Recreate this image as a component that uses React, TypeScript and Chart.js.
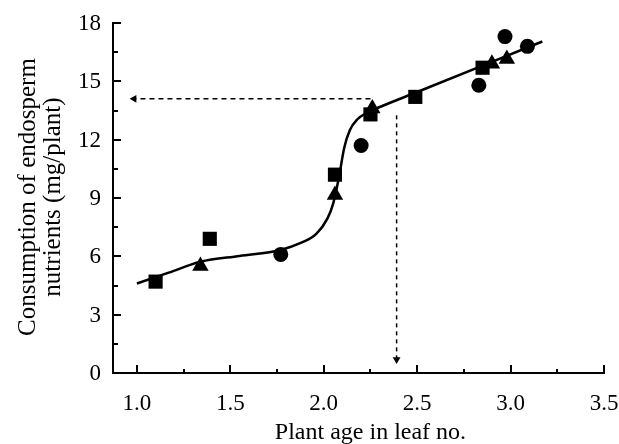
import React, { useEffect, useRef } from "react";
import { Chart, registerables } from "chart.js";

Chart.register(...registerables);

// ---- data ----
const squareX = [1.1, 1.39, 2.06, 2.25, 2.49, 2.85];
const squareY = [4.7, 6.9, 10.2, 13.3, 14.2, 15.7];

const triangleX = [1.34, 2.06, 2.26, 2.9, 2.98];
const triangleY = [5.5, 9.15, 13.6, 15.9, 16.15];

const circleX = [1.77, 2.2, 2.83, 2.97, 3.09];
const circleY = [6.1, 11.7, 14.8, 17.3, 16.8];

const curveX = [1.0, 1.17, 1.34, 1.55, 1.77, 1.88, 1.96, 2.02, 2.05, 2.08, 2.11, 2.14, 2.18, 2.23, 2.3, 2.5, 2.9, 3.17];
const curveY = [4.6, 5.16, 5.72, 6.02, 6.33, 6.7, 7.15, 7.95, 8.7, 10.0, 11.6, 12.5, 13.05, 13.38, 13.68, 14.45, 16.0, 17.05];

const hDashX = [2.25, 0.985];
const hDashY = [14.1, 14.1];
const vDashX = [2.39, 2.39];
const vDashY = [13.25, 0.7];
const arrowX = [0.985, 2.39];
const arrowY = [14.1, 0.7];
const arrowRotation = [270, 180];

const xMajorTicks = [1.0, 1.5, 2.0, 2.5, 3.0, 3.5];
const xMajorLabels = ["1.0", "1.5", "2.0", "2.5", "3.0", "3.5"];
const xMinorTicks = [1.25, 1.75, 2.25, 2.75, 3.25];
const yMajorTicks = [0, 3, 6, 9, 12, 15, 18];
const yMajorLabels = ["0", "3", "6", "9", "12", "15", "18"];
const yMinorTicks = [1.5, 4.5, 7.5, 10.5, 13.5, 16.5];

const xTitle = "Plant age in leaf no.";
const yTitleLines = ["Consumption of endosperm", "nutrients (mg/plant)"];

const X_MIN = 0.872;
const X_MAX = 3.5;
const Y_MIN = 0;
const Y_MAX = 18;

const FONT = "'Liberation Serif', 'Times New Roman', serif";

const zip = (xs: number[], ys: number[]) => xs.map((x, i) => ({ x, y: ys[i] }));

const axesPlugin = {
  id: "customAxes",
  afterDatasetsDraw(chart: any) {
    const { ctx, chartArea, scales } = chart;
    const xs = scales.x;
    const ys = scales.y;
    const y0 = ys.getPixelForValue(0);
    const xLeft = chartArea.left;
    ctx.save();
    ctx.strokeStyle = "#000";
    ctx.fillStyle = "#000";
    ctx.lineWidth = 2;
    ctx.lineCap = "butt";
    // axis lines
    ctx.beginPath();
    ctx.moveTo(xLeft, ys.getPixelForValue(Y_MAX) - 1);
    ctx.lineTo(xLeft, y0);
    ctx.lineTo(xs.getPixelForValue(X_MAX) + 1, y0);
    ctx.stroke();
    // x ticks (inward / upward)
    ctx.beginPath();
    xMajorTicks.forEach((v) => {
      const px = Math.round(xs.getPixelForValue(v));
      ctx.moveTo(px, y0);
      ctx.lineTo(px, y0 - 8);
    });
    xMinorTicks.forEach((v) => {
      const px = Math.round(xs.getPixelForValue(v));
      ctx.moveTo(px, y0);
      ctx.lineTo(px, y0 - 4);
    });
    // y ticks (inward / rightward)
    yMajorTicks.forEach((v) => {
      const py = Math.round(ys.getPixelForValue(v));
      ctx.moveTo(xLeft, py);
      ctx.lineTo(xLeft + 8, py);
    });
    yMinorTicks.forEach((v) => {
      const py = Math.round(ys.getPixelForValue(v));
      ctx.moveTo(xLeft, py);
      ctx.lineTo(xLeft + 5, py);
    });
    ctx.stroke();

    // tick labels
    ctx.font = `23px ${FONT}`;
    ctx.textAlign = "center";
    ctx.textBaseline = "middle";
    xMajorTicks.forEach((v, i) => {
      ctx.fillText(xMajorLabels[i], xs.getPixelForValue(v), y0 + 31);
    });
    ctx.textAlign = "right";
    yMajorTicks.forEach((v, i) => {
      ctx.fillText(yMajorLabels[i], xLeft - 12, ys.getPixelForValue(v) + 1);
    });

    // titles
    ctx.font = `24px ${FONT}`;
    ctx.textAlign = "center";
    ctx.fillText(xTitle, (xs.getPixelForValue(1.0) + xs.getPixelForValue(X_MAX)) / 2, y0 + 60);
    ctx.font = `25px ${FONT}`;
    const cy = (ys.getPixelForValue(Y_MIN) + ys.getPixelForValue(Y_MAX)) / 2 - 1;
    ctx.save();
    ctx.translate(0, cy);
    ctx.rotate(-Math.PI / 2);
    ctx.fillText(yTitleLines[0], 0, 28);
    ctx.fillText(yTitleLines[1], 0, 53);
    ctx.restore();
    ctx.restore();
  },
};

export default function App() {
  const ref = useRef<HTMLCanvasElement | null>(null);
  useEffect(() => {
    if (!ref.current) return;
    const chart = new Chart(ref.current, {
      type: "scatter",
      data: {
        datasets: [
          {
            label: "squares",
            data: zip(squareX, squareY),
            pointStyle: "rect",
            pointRadius: 10,
            backgroundColor: "#000",
            borderColor: "#000",
            borderWidth: 0,
            showLine: false,
            order: 0,
            clip: false,
          } as any,
          {
            label: "triangles",
            data: zip(triangleX, triangleY),
            pointStyle: "triangle",
            pointRadius: 9.5,
            backgroundColor: "#000",
            borderColor: "#000",
            borderWidth: 0,
            showLine: false,
            order: 0,
            clip: false,
          },
          {
            label: "circles",
            data: zip(circleX, circleY),
            pointStyle: "circle",
            pointRadius: 7.5,
            backgroundColor: "#000",
            borderColor: "#000",
            borderWidth: 0,
            showLine: false,
            order: 0,
            clip: false,
          },
          {
            label: "curve",
            type: "line",
            data: zip(curveX, curveY),
            borderColor: "#000",
            borderWidth: 2.5,
            pointRadius: 0,
            showLine: true,
            fill: false,
            cubicInterpolationMode: "monotone",
            order: 1,
            clip: false,
          } as any,
          {
            label: "hdash",
            type: "line",
            data: zip(hDashX, hDashY),
            borderColor: "#000",
            borderWidth: 1.5,
            borderDash: [5, 4],
            pointRadius: 0,
            showLine: true,
            fill: false,
            order: 2,
            clip: false,
          } as any,
          {
            label: "vdash",
            type: "line",
            data: zip(vDashX, vDashY),
            borderColor: "#000",
            borderWidth: 1.5,
            borderDash: [4, 4],
            pointRadius: 0,
            showLine: true,
            fill: false,
            order: 2,
            clip: false,
          } as any,
          {
            label: "arrows",
            data: zip(arrowX, arrowY),
            pointStyle: "triangle",
            pointRadius: 4.5,
            pointRotation: arrowRotation,
            backgroundColor: "#000",
            borderColor: "#000",
            borderWidth: 0,
            showLine: false,
            order: 0,
            clip: false,
          } as any,
        ],
      },
      options: {
        animation: false,
        responsive: false,
        maintainAspectRatio: false,
        layout: { padding: { left: 113, right: 15, top: 23, bottom: 71 } },
        plugins: { legend: { display: false }, tooltip: { enabled: false } },
        scales: {
          x: { type: "linear", min: X_MIN, max: X_MAX, display: false },
          y: { type: "linear", min: Y_MIN, max: Y_MAX, display: false },
        },
      },
      plugins: [axesPlugin],
    });
    return () => chart.destroy();
  }, []);
  return (
    <div style={{ position: "absolute", left: 0, top: 0, width: 619, height: 444, background: "#fff" }}>
      <canvas ref={ref} width={619} height={444} style={{ display: "block", width: 619, height: 444 }} />
    </div>
  );
}
